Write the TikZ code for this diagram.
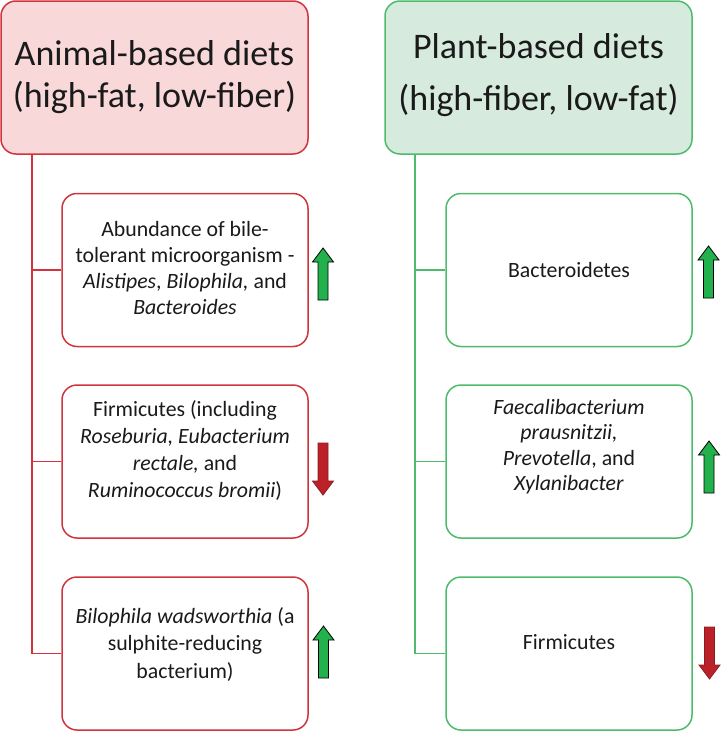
\documentclass[tikz,border=0pt]{standalone}
\usepackage{fontspec}
\setmainfont{Carlito}
\definecolor{redline}{HTML}{D0343E}
\definecolor{pinkfill}{HTML}{F9D8DA}
\definecolor{greenline}{HTML}{4DBB6B}
\definecolor{greenfill}{HTML}{D6EBDD}
\definecolor{upgreen}{HTML}{22B14C}
\definecolor{downred}{HTML}{BC2029}
\definecolor{downredline}{HTML}{8C1C1C}
\definecolor{txt}{HTML}{1A1A1A}
\begin{document}
\begin{tikzpicture}[x=1pt,y=-1pt,
  header/.style={rounded corners=15pt, line width=1.5pt, minimum width=307pt, minimum height=153pt, inner sep=0pt},
  redhead/.style={header, draw=redline, fill=pinkfill},
  greenhead/.style={header, draw=greenline, fill=greenfill},
  itembox/.style={rounded corners=15pt, line width=1.5pt, minimum width=246pt, minimum height=153pt, inner sep=0pt, fill=white},
  reditem/.style={itembox, draw=redline},
  greenitem/.style={itembox, draw=greenline},
  boxtext/.style={text=txt, align=center, font=\fontsize{21.8}{26}\selectfont},
  headtext/.style={text=txt, align=center},
  redconn/.style={draw=redline, line width=1.5pt},
  greenconn/.style={draw=greenline, line width=1.5pt},
  uparr/.pic={\draw[fill=upgreen, draw=black, line width=0.8pt, line join=miter]
     (-5,0) -- (-5,-38) -- (-10.5,-38) -- (0,-52) -- (10.5,-38) -- (5,-38) -- (5,0) -- cycle;},
  downarr/.pic={\draw[fill=downred, draw=downredline, line width=0.8pt, line join=miter]
     (-5,0) -- (-5,38) -- (-10.5,38) -- (0,52) -- (10.5,38) -- (5,38) -- (5,0) -- cycle;}
]
\useasboundingbox (0,0) rectangle (721,731);

% headers
\node[redhead] (lh) at (154.5,77.5) {};
\node[headtext, font=\fontsize{36}{42}\selectfont] (lht) at (lh.center) {Animal-based diets\\(high-fat, low-fiber)};
\node[greenhead] (rh) at (538.5,77.5) {};
\node[headtext, font=\fontsize{36}{52}\selectfont] (rht) at ([yshift=2.5pt]rh.center) {Plant-based diets\\(high-fiber, low-fat)};

% left boxes
\node[reditem] (l1) at (185,270) {};
\node[reditem] (l2) at (185,461.5) {};
\node[reditem] (l3) at (185,653.5) {};
% right boxes
\node[greenitem] (r1) at (569,270) {};
\node[greenitem] (r2) at (569,461.5) {};
\node[greenitem] (r3) at (569,653.5) {};

% connectors
\coordinate (lv) at (32,154);
\coordinate (rv) at (415,154);
\draw[redconn] (lv) |- (l3.west);
\draw[redconn] (lv |- l1.west) -- (l1.west);
\draw[redconn] (lv |- l2.west) -- (l2.west);
\draw[greenconn] (rv) |- (r3.west);
\draw[greenconn] (rv |- r1.west) -- (r1.west);
\draw[greenconn] (rv |- r2.west) -- (r2.west);

% texts
\node[boxtext] (l1t) at ([yshift=1.5pt]l1.center) {Abundance of bile-\\tolerant microorganism -\\\textit{Alistipes}, \textit{Bilophila,} and\\\textit{Bacteroides}};
\node[boxtext, font=\fontsize{21.8}{26.7}\selectfont] (l2t) at ([yshift=11pt]l2.center) {Firmicutes (including\\\textit{Roseburia, Eubacterium}\\\textit{rectale,} and\\\textit{Ruminococcus bromii})};
\node[boxtext, font=\fontsize{21.8}{27.5}\selectfont] (l3t) at ([yshift=9pt]l3.center) {\textit{Bilophila wadsworthia} (a\\sulphite-reducing\\bacterium)};
\node[boxtext] (r1t) at (r1.center) {Bacteroidetes};
\node[boxtext, font=\fontsize{21.8}{25.5}\selectfont] (r2t) at ([yshift=15pt]r2.center) {\textit{Faecalibacterium}\\\textit{prausnitzii,}\\\textit{Prevotella}, and\\\textit{Xylanibacter}};
\node[boxtext] (r3t) at ([yshift=11pt]r3.center) {Firmicutes};

% trend arrows
\pic at (323,300) {uparr};
\pic at (323,443) {downarr};
\pic at (323.5,678) {uparr};
\pic at (708.5,298) {uparr};
\pic at (709,493) {uparr};
\pic at (709.5,627) {downarr};
\end{tikzpicture}
\end{document}
